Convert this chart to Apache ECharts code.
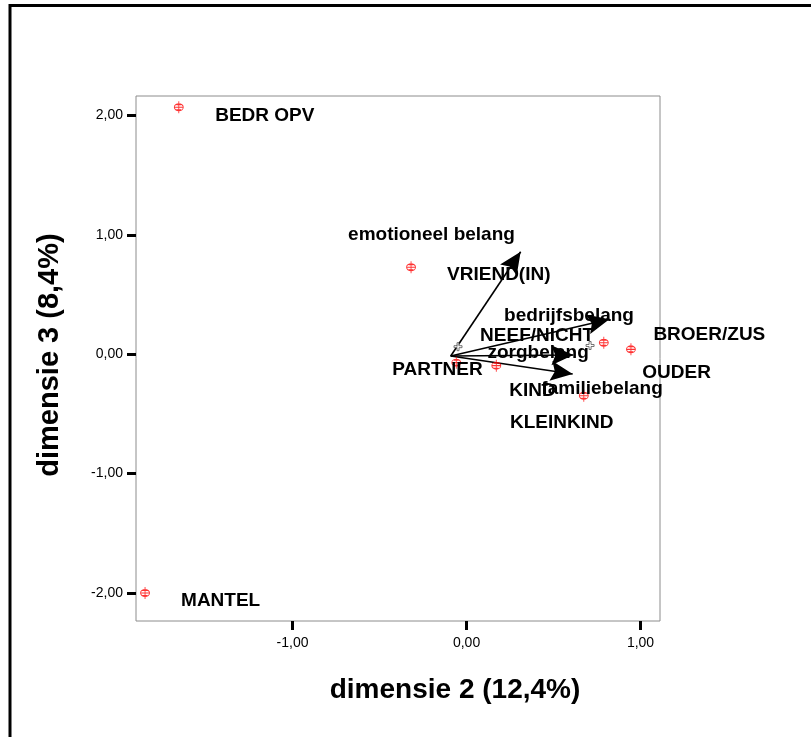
<!DOCTYPE html>
<html>
<head>
<meta charset="utf-8">
<script src="https://cdn.jsdelivr.net/npm/echarts@6/dist/echarts.min.js"></script>
<style>html,body{margin:0;padding:0;background:#fff}#c{width:811px;height:737px}</style>
</head>
<body>
<div id="c"></div>
<script>
// Object points (dimension 2, dimension 3)
const pointNames = ['BEDR OPV', 'MANTEL', 'VRIEND(IN)', 'PARTNER', 'KIND', 'KLEINKIND', 'NEEF/NICHT', 'BROER/ZUS'];
const pointX = [-1.654, -1.848, -0.319, -0.059, 0.171, 0.674, 0.789, 0.945];
const pointY = [2.068, -2.000, 0.728, -0.071, -0.096, -0.348, 0.096, 0.041];

// Label anchor positions (left-middle of the text)
const labelTexts = ['BEDR OPV', 'MANTEL', 'VRIEND(IN)', 'PARTNER', 'NEEF/NICHT', 'BROER/ZUS', 'OUDER', 'KIND', 'KLEINKIND',
  'emotioneel belang', 'bedrijfsbelang', 'zorgbelang', 'familiebelang'];
const labelX = [-1.445, -1.641, -0.112, -0.427, 0.078, 1.074, 1.010, 0.246, 0.250, -0.681, 0.216, 0.120, 0.430];
const labelY = [1.995, -2.067, 0.663, -0.132, 0.155, 0.161, -0.155, -0.306, -0.576, 1.002, 0.320, 0.008, -0.286];

// Variable vectors
const vectorNames = ['emotioneel belang', 'bedrijfsbelang', 'zorgbelang', 'familiebelang'];
const vectorStart = [-0.091, -0.015];
const vectorEndX = [0.311, 0.821, 0.614, 0.610];
const vectorEndY = [0.858, 0.292, -0.007, -0.166];

// Secondary markers
const centroidX = [-0.049, 0.710];
const centroidY = [0.063, 0.073];

// Axis ticks
const xTicks = [-1, 0, 1];
const yTicks = [-2, -1, 0, 1, 2];
const fmt = v => v.toFixed(2).replace('.', ',');

const redMarker = 'path://M6,0 L6,14 M2,7 L10,7 M10,7 A4,4 0 1 1 2,7 A4,4 0 1 1 10,7 M4,4 L8,4 M4,10 L8,10';
const grayMarker = 'path://M3,0 L5,0 L5,3 L8,3 L8,5 L5,5 L5,8 L3,8 L3,5 L0,5 L0,3 L3,3 Z';
// arrow head whose tip sits at the centre of its (square) box
const arrowHead = 'path://M0,0 L0.001,0 M22,22 L32,44 L22,40 L12,44 Z M44,44 L43.999,44';

const chart = echarts.init(document.getElementById('c'));
const font = "'Liberation Sans', Arial, sans-serif";

chart.setOption({
  animation: false,
  backgroundColor: '#fff',
  grid: { left: 136, top: 96, width: 524, height: 525, show: true, borderColor: '#8c8c8c', borderWidth: 1, backgroundColor: 'transparent' },
  xAxis: {
    type: 'value', min: -1.9, max: 1.112,
    splitLine: { show: false },
    axisLine: { show: false, onZero: false },
    axisTick: { show: true, customValues: xTicks, length: 9, lineStyle: { color: '#000', width: 3 } },
    axisLabel: { customValues: xTicks, formatter: fmt, margin: 15, fontSize: 14, color: '#000', fontFamily: font }
  },
  yAxis: {
    type: 'value', min: -2.2345, max: 2.1625,
    splitLine: { show: false },
    axisLine: { show: false, onZero: false },
    axisTick: { show: true, customValues: yTicks, length: 9, lineStyle: { color: '#000', width: 3 } },
    axisLabel: { customValues: yTicks, formatter: fmt, margin: 13, fontSize: 14, color: '#000', fontFamily: font }
  },
  graphic: [
    { type: 'rect', shape: { x: 10, y: 5.5, width: 900, height: 900 }, style: { fill: 'none', stroke: '#000', lineWidth: 3 }, silent: true },
    { type: 'text', x: 455, y: 690, style: { text: 'dimensie 2 (12,4%)', font: "bold 28px 'Liberation Sans', Arial, sans-serif", fill: '#000', align: 'center', verticalAlign: 'middle' } },
    { type: 'text', x: 50, y: 355, rotation: Math.PI / 2, style: { text: 'dimensie 3 (8,4%)', font: "bold 29px 'Liberation Sans', Arial, sans-serif", fill: '#000', align: 'center', verticalAlign: 'middle' } }
  ],
  series: [
    {
      type: 'lines', coordinateSystem: 'cartesian2d', z: 3,
      symbol: ['none', arrowHead], symbolSize: 44,
      lineStyle: { color: '#000', width: 1.6, opacity: 1 },
      itemStyle: { color: '#000' },
      data: vectorNames.map((n, i) => ({ name: n, coords: [vectorStart, [vectorEndX[i], vectorEndY[i]]] }))
    },
    {
      type: 'scatter', z: 4,
      symbol: redMarker, symbolSize: [9, 12],
      itemStyle: { color: 'none', borderColor: '#ff0000', borderWidth: 1 },
      data: pointNames.map((n, i) => ({ name: n, value: [pointX[i], pointY[i]] }))
    },
    {
      type: 'scatter', z: 4,
      symbol: grayMarker, symbolSize: 8,
      itemStyle: { color: '#fff', borderColor: '#555', borderWidth: 1 },
      data: centroidX.map((x, i) => [x, centroidY[i]])
    },
    {
      type: 'scatter', z: 5,
      symbolSize: 0,
      itemStyle: { color: 'transparent' },
      label: { show: true, position: [0, 0], align: 'left', verticalAlign: 'middle', formatter: p => p.name,
        fontFamily: font, fontWeight: 'bold', fontSize: 19, color: '#000', opacity: 1 },
      data: labelTexts.map((t, i) => ({ name: t, value: [labelX[i], labelY[i]] }))
    }
  ]
});
</script>
</body>
</html>
